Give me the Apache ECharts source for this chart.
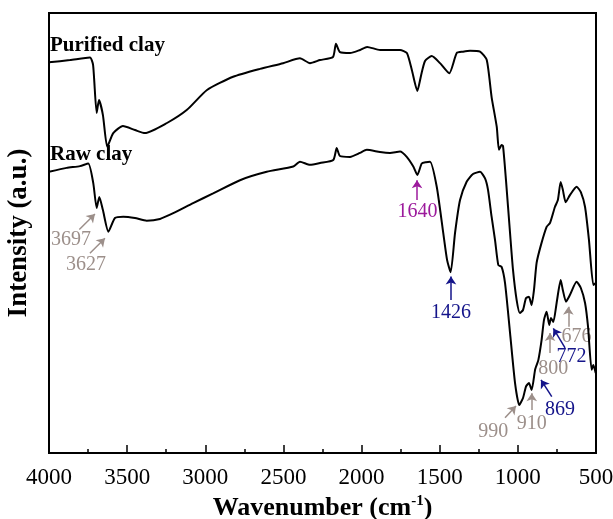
<!DOCTYPE html>
<html>
<head>
<meta charset="utf-8">
<script src="https://cdn.jsdelivr.net/npm/echarts@6/dist/echarts.min.js"></script>
<style>
  html, body { margin: 0; padding: 0; background: #fff; }
  #chart { width: 613px; height: 519px; }
</style>
</head>
<body>
<div id="chart"></div>
<script>
// FTIR spectra, wavenumber (cm-1) vs intensity (arbitrary units 0-100)
var purifiedWn = [4000, 3866, 3738, 3718, 3695, 3680, 3655, 3627, 3589, 3527, 3450, 3386, 3245, 3117, 2989, 2822, 2650, 2502, 2394, 2330, 2266, 2183, 2164, 2138, 2074, 2010, 1965, 1882, 1754, 1710, 1678, 1643, 1620, 1594, 1551, 1498, 1439, 1391, 1351, 1306, 1242, 1199, 1168, 1135, 1121, 1104, 1095, 1076, 1050, 1031, 1008, 987, 967, 948, 929, 912, 897, 880, 852, 816, 794, 763, 744, 726, 712, 694, 667, 624, 597, 570, 545, 517, 502];
var purifiedY = [88.8, 89.3, 89.9, 88.2, 77.3, 80.2, 76.8, 69.6, 72.7, 74.3, 73.4, 72.7, 75.0, 78.0, 82.5, 85.5, 87.3, 88.6, 89.7, 88.6, 89.3, 90.0, 93.0, 91.1, 90.9, 91.6, 92.3, 91.6, 91.6, 90.9, 87.0, 82.3, 85.7, 89.1, 90.2, 88.6, 86.3, 90.9, 91.2, 91.4, 91.2, 89.3, 80.9, 74.1, 68.9, 70.0, 69.8, 62.0, 50.0, 41.6, 34.8, 31.8, 32.5, 35.2, 35.5, 33.6, 37.0, 43.2, 47.3, 51.4, 52.3, 55.9, 57.5, 61.6, 59.8, 57.0, 58.6, 60.5, 59.3, 55.9, 48.4, 38.2, 38.6];

var rawWn = [4000, 3887, 3802, 3749, 3717, 3695, 3678, 3655, 3620, 3578, 3525, 3450, 3375, 3290, 3205, 3078, 2950, 2778, 2607, 2437, 2394, 2330, 2266, 2181, 2159, 2138, 2074, 2010, 1967, 1882, 1818, 1754, 1711, 1669, 1643, 1615, 1588, 1562, 1519, 1477, 1453, 1430, 1402, 1370, 1327, 1287, 1242, 1210, 1191, 1168, 1146, 1125, 1104, 1082, 1050, 1018, 991, 967, 948, 929, 912, 890, 884, 869, 848, 833, 816, 799, 788, 773, 752, 726, 712, 692, 667, 624, 597, 570, 551, 528, 517, 502];
var rawY = [63.9, 64.8, 65.2, 65.8, 61.4, 55.7, 58.2, 55.2, 50.3, 53.4, 53.7, 53.4, 52.8, 53.2, 54.5, 56.8, 59.0, 62.0, 63.9, 65.1, 66.2, 65.5, 65.9, 66.6, 69.3, 67.5, 67.3, 68.2, 68.9, 68.4, 68.2, 68.5, 67.3, 65.1, 63.2, 65.8, 66.1, 66.2, 60.5, 49.9, 43.9, 41.1, 50.0, 57.5, 61.7, 63.4, 63.9, 62.4, 59.8, 53.7, 48.4, 42.7, 42.3, 38.6, 27.3, 15.9, 10.9, 12.5, 15.1, 15.9, 14.3, 18.9, 19.6, 21.1, 25.7, 30.2, 32.1, 29.1, 30.7, 29.8, 34.1, 39.3, 37.0, 34.4, 35.9, 38.9, 37.5, 34.1, 28.7, 18.9, 20.0, 18.2];

var xTicks = [4000, 3500, 3000, 2500, 2000, 1500, 1000, 500];

// peak labels: text, colour, label position, arrow tail, arrow tip (data coords)
var GRAY = '#9c8f8a', BLUE = '#14148a', PURPLE = '#9c1a9c';
var peakText = ['3697', '3627', '1640', '1426', '990', '910', '869', '800', '772', '676'];
var peakColor = [GRAY, GRAY, PURPLE, BLUE, GRAY, GRAY, BLUE, GRAY, BLUE, GRAY];
var peakLabel = [[3859, 48.4], [3763, 42.7], [1642, 54.8], [1428, 31.8], [1157, 4.8], [911, 6.75], [730, 9.8], [773, 19.25], [656, 21.9], [624, 26.4]];
var arrowTail = [[3806, 50.8], [3738, 45.4], [1645, 57.5], [1428, 34.8], [1082, 8.0], [911, 9.8], [783, 12.8], [794, 22.7], [698, 23.9], [677, 28.7]];
var arrowTip = [[3706, 54.3], [3642, 48.8], [1645, 62.0], [1428, 40.1], [1012, 10.7], [911, 13.6], [852, 16.6], [794, 27.3], [773, 28.3], [677, 33.25]];

var FONT = 'Liberation Serif';

function pairs(xs, ys) {
  var out = [];
  for (var i = 0; i < xs.length; i++) out.push([xs[i], ys[i]]);
  return out;
}

var arrowData = [];
var labelData = [];
for (var i = 0; i < peakText.length; i++) {
  arrowData.push({
    coords: [arrowTail[i], arrowTip[i]],
    lineStyle: { color: peakColor[i] }
  });
  labelData.push({
    value: peakLabel[i],
    label: { formatter: peakText[i], color: peakColor[i] }
  });
}

var chart = echarts.init(document.getElementById('chart'), null, { renderer: 'canvas' });

var option = {
  backgroundColor: '#fff',
  animation: false,
  grid: {
    left: 49, right: 17, top: 13, bottom: 66,
    outerBoundsMode: 'none',
    containLabel: false,
    show: true, borderColor: '#000', borderWidth: 2, backgroundColor: 'transparent'
  },
  xAxis: {
    type: 'value',
    min: 500, max: 4000, interval: 500,
    inverse: true,
    name: '{a|Wavenumber (cm}{s|-1}{a|)}',
    nameLocation: 'middle',
    nameGap: 38,
    nameTextStyle: {
      rich: {
        a: { fontFamily: FONT, fontSize: 26, fontWeight: 'bold', color: '#000', lineHeight: 28 },
        s: { fontFamily: FONT, fontSize: 15, fontWeight: 'bold', color: '#000', verticalAlign: 'top', lineHeight: 16 }
      }
    },
    axisLine: { onZero: false, lineStyle: { color: '#000', width: 2 } },
    axisTick: { inside: true, length: 8, lineStyle: { color: '#000', width: 1.5 } },
    minorTick: { show: true, splitNumber: 2, length: 4, lineStyle: { color: '#000', width: 1.5 } },
    splitLine: { show: false },
    axisLabel: {
      fontFamily: FONT, fontSize: 23, color: '#000', margin: 13,
      formatter: function (v) { return xTicks.indexOf(v) >= 0 ? String(v) : ''; }
    }
  },
  yAxis: {
    type: 'value',
    min: 0, max: 100,
    name: 'Intensity (a.u.)',
    nameLocation: 'middle',
    nameGap: 16,
    nameTextStyle: { fontFamily: FONT, fontSize: 27, fontWeight: 'bold', color: '#000' },
    axisLine: { show: true, onZero: false, lineStyle: { color: '#000', width: 2 } },
    axisTick: { show: false },
    axisLabel: { show: false },
    splitLine: { show: false }
  },
  series: [
    {
      name: 'Purified clay',
      type: 'line',
      data: pairs(purifiedWn, purifiedY),
      showSymbol: false,
      smooth: 0.2,
      lineStyle: { color: '#000', width: 2 }
    },
    {
      name: 'Raw clay',
      type: 'line',
      data: pairs(rawWn, rawY),
      showSymbol: false,
      smooth: 0.2,
      lineStyle: { color: '#000', width: 2 }
    },
    {
      type: 'lines',
      coordinateSystem: 'cartesian2d',
      polyline: false,
      symbol: ['none', 'arrow'],
      symbolSize: 8,
      lineStyle: { width: 1.5, opacity: 1 },
      data: arrowData,
      silent: true
    },
    {
      type: 'scatter',
      symbolSize: 0,
      itemStyle: { opacity: 1 },
      data: labelData,
      silent: true,
      label: {
        show: true, position: 'inside', fontFamily: FONT, fontSize: 20, opacity: 1
      }
    }
  ],
  graphic: [
    {
      type: 'text', left: 50, top: 35,
      style: { text: 'Purified clay', font: 'bold 21px "Liberation Serif"', fill: '#000' }
    },
    {
      type: 'text', left: 50, top: 144,
      style: { text: 'Raw clay', font: 'bold 21px "Liberation Serif"', fill: '#000' }
    }
  ]
};

chart.setOption(option);
</script>
</body>
</html>
